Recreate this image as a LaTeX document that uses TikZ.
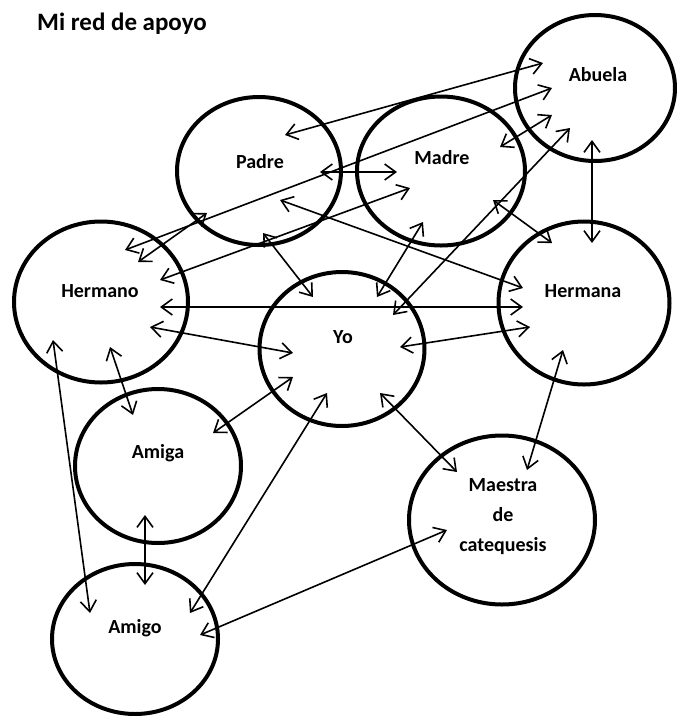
\documentclass[tikz,border=0pt]{standalone}
\usepackage{fontspec}
\setmainfont{Carlito}
\usetikzlibrary{arrows.meta,shapes.geometric}

\begin{document}
\begin{tikzpicture}
	[
	x=1pt, y=-1pt, font=\bfseries\fontsize{20}{30}\selectfont, >={Straight Barb[length=11pt,width=16pt]},
	%Voreinstellung für Kreise und Pfeile
	kreis/.style={draw, ellipse, line width=4pt, inner sep=0pt},
	pfeil/.style={<->, line width=1.6pt}
	]
	
	\useasboundingbox (0,0) rectangle (677,716);
	
	%Titel
	\node [anchor=base west, inner sep=0pt, font=\bfseries\fontsize{25}{30}\selectfont] (titel) at (37,30) {Mi red de apoyo};
	
	%Kreise
	\node [kreis, minimum width=164, minimum height=148] (padre) at (259,171) {};
	\node [kreis, minimum width=168, minimum height=149] (madre) at (441,171) {};
	\node [kreis, minimum width=160, minimum height=146] (abuela) at (595,88) {};
	\node [kreis, minimum width=174, minimum height=161] (hermano) at (101,302) {};
	\node [kreis, minimum width=171, minimum height=163] (hermana) at (584,303) {};
	\node [kreis, minimum width=165, minimum height=154] (yo) at (342,349) {};
	\node [kreis, minimum width=166, minimum height=154] (amiga) at (158,466) {};
	\node [kreis, minimum width=166, minimum height=150] (amigo) at (135,639) {};
	\node [kreis, minimum width=186, minimum height=169] (maestra) at (502,520) {};
	
	%Beschriftungen
	\node (padre-t) at (260,162) {Padre};
	\node (madre-t) at (442,158) {Madre};
	\node (abuela-t) at (598,75) {Abuela};
	\node (hermano-t) at (100,291) {Hermano};
	\node (hermana-t) at (583,291) {Hermana};
	\node (yo-t) at (343,337) {Yo};
	\node (amiga-t) at (158,453) {Amiga};
	\node (amigo-t) at (135,628) {Amigo};
	\node [align=center] (maestra-t) at (503,517) {Maestra\\de\\catequesis};
	
	%Pfeile zwischen den Kreisen
	\foreach \a/\ax/\ay/\b/\bx/\by in {padre/26/-36/abuela/-52/-25, padre/61/1/madre/-44/1, padre/4/62/yo/-29/-52, padre/21/29/hermana/-61/-15, padre/-52/42/hermano/37/-40, madre/59/-24/abuela/-43/27, madre/-18/51/yo/35/-52, madre/52/29/hermana/-32/-60, madre/-31/17/hermano/59/-22, abuela/-43/0/hermano/24/-52, abuela/-25/40/yo/51/-34, abuela/-3/52/hermana/8/-60, hermano/59/5/hermana/-61/4, hermano/49/25/yo/-49/4, hermano/9/45/amiga/-25/-51, hermano/-48/38/amigo/-45/-26, yo/58/-2/hermana/-54/24, yo/-49/28/amiga/55/-33, yo/-15/44/amigo/55/-26, yo/38/44/maestra/-45/-48, hermana/-21/47/maestra/25/-50, amiga/-13/49/amigo/10/-54, amigo/65/-4/maestra/-55/10}
	\draw [pfeil] ([shift={(\ax,\ay)}]\a.center) -- ([shift={(\bx,\by)}]\b.center);
\end{tikzpicture}
\end{document}
